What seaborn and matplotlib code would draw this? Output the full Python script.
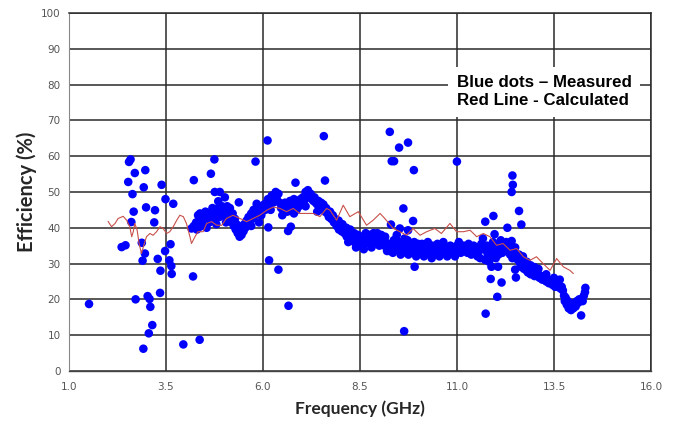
import numpy as np
import pandas as pd
import matplotlib
matplotlib.use('Agg')
import matplotlib.pyplot as plt
import seaborn as sns
from matplotlib.ticker import MultipleLocator

# Measured efficiency (blue dots) - scattered points
scatter_x = [1.52, 2.36, 2.46, 2.61, 2.67, 2.72, 2.88, 2.90, 2.96, 2.92, 2.99, 3.03, 3.08, 3.06,
             3.10, 3.15, 3.20, 3.22, 3.29, 3.35, 3.36, 3.48, 3.59, 3.62, 3.64, 3.65, 3.95, 4.20,
             4.37, 4.16, 4.38, 6.14, 6.16, 6.40, 6.66, 6.65, 6.72,
             2.53, 2.55, 2.59, 2.70, 2.64, 2.97, 2.93, 3.39, 3.49, 3.69, 4.22, 4.66, 4.75, 4.76,
             4.85, 5.02, 5.38, 5.81, 5.84, 6.12, 7.57, 7.60, 6.84, 4.89,
             9.27, 9.51, 9.74, 9.32, 9.38, 9.89, 11.00, 12.43, 12.44, 12.41,
             9.62, 9.87, 9.91, 9.64, 9.30, 9.53, 9.74, 11.73, 11.94, 11.97, 12.60, 12.66, 12.30,
             12.41, 11.87, 12.15, 12.04, 11.74, 12.50, 12.52, 14.20, 14.31, 11.79, 11.89, 12.06]
scatter_y = [18.7, 34.6, 35.1, 41.6, 44.5, 20.0, 35.8, 30.8, 32.8, 6.2, 45.7, 20.9, 20.1, 10.5,
             17.9, 12.8, 41.5, 44.9, 31.3, 21.8, 28.0, 33.5, 30.9, 35.4, 29.3, 27.1, 7.4, 26.4,
             8.7, 39.8, 40.3, 40.1, 30.9, 28.3, 18.2, 39.1, 40.3,
             52.8, 58.4, 59.1, 55.3, 49.4, 56.1, 51.3, 52.0, 48.0, 46.7, 53.3, 55.1, 59.1, 50.0,
             47.4, 48.5, 47.1, 58.5, 46.7, 64.4, 65.6, 53.2, 52.6, 50.0,
             66.8, 62.4, 63.8, 58.6, 58.6, 56.1, 58.5, 54.6, 52.0, 50.0,
             45.4, 41.9, 29.1, 11.1, 40.9, 39.8, 39.3, 41.7, 43.3, 38.2, 44.7, 40.9, 40.0,
             36.3, 25.7, 24.7, 20.7, 16.0, 28.3, 26.1, 15.5, 23.2, 32.8, 29.1, 29.1]

# Measured efficiency (blue dots) - dense band
band_x = [4.22, 4.28, 4.33, 4.38, 4.42, 4.45, 4.48, 4.52, 4.55, 4.58, 4.62, 4.65, 4.68, 4.72,
          4.75, 4.78, 4.82, 4.85, 4.88, 4.92, 4.95, 4.98, 4.40, 4.50, 4.60, 4.70,
          5.02, 5.05, 5.08, 5.10, 5.12, 5.15, 5.18, 5.20, 5.22, 5.25, 5.28, 5.30, 5.32, 5.35,
          5.37, 5.40, 5.42, 5.45, 5.47, 5.50, 5.52, 5.55, 5.58, 5.60,
          5.63, 5.66, 5.70, 5.73, 5.76, 5.80, 5.83, 5.86, 5.90, 5.93, 5.96, 6.00,
          6.03, 6.06, 6.10, 6.13, 6.16, 6.20, 6.23, 6.26, 6.30, 6.33, 6.36, 6.40, 6.43,
          6.47, 6.50, 6.53, 6.57, 6.60, 6.63, 6.67, 6.70, 6.73, 6.77, 6.80, 6.83, 6.87, 6.90,
          6.93, 6.97, 7.00,
          7.03, 7.06, 7.10, 7.13, 7.16, 7.20, 7.23, 7.26, 7.30, 7.33, 7.36, 7.40, 7.43, 7.46, 7.50,
          7.53, 7.56, 7.60, 7.63, 7.66, 7.70, 7.73, 7.76, 7.80, 7.83, 7.86, 7.90, 7.93, 7.96, 8.00,
          8.03, 8.06, 8.10, 8.13, 8.16, 8.20, 8.23, 8.26, 8.30, 8.33, 8.36, 8.40, 8.43, 8.46, 8.50,
          8.53, 8.56, 8.60, 8.63, 8.66, 8.70, 8.73, 8.76, 8.80, 8.83, 8.86, 8.90, 8.93, 8.96, 9.00,
          9.03, 9.06, 9.10, 9.13, 9.16, 9.20,
          9.27, 9.30, 9.33, 9.37, 9.40, 9.43, 9.46, 9.50, 9.53, 9.57, 9.60, 9.63, 9.67, 9.70, 9.73,
          9.77, 9.80, 9.83, 9.87, 9.90, 9.93, 9.97, 10.00,
          10.03, 10.07, 10.10, 10.13, 10.17, 10.20, 10.23, 10.27, 10.30, 10.33, 10.37, 10.40,
          10.43, 10.47, 10.50, 10.53, 10.57, 10.60, 10.63, 10.67, 10.70, 10.73, 10.77, 10.80,
          10.83, 10.87, 10.90, 10.93, 10.97, 11.00, 11.03, 11.07, 11.10,
          11.13, 11.17, 11.20, 11.23, 11.27, 11.30, 11.33, 11.37, 11.40, 11.43, 11.47, 11.50,
          11.53, 11.57, 11.60, 11.63, 11.67, 11.70, 11.73, 11.77, 11.80, 11.83, 11.87, 11.90,
          11.93, 11.97, 12.00, 12.03, 12.07, 12.10, 12.13, 12.17, 12.20, 12.23, 12.27, 12.30,
          12.33, 12.37, 12.40, 12.43, 12.47, 12.50, 12.53, 12.57, 12.60,
          12.63, 12.67, 12.70, 12.73, 12.77, 12.80, 12.83, 12.87, 12.90, 12.93, 12.97, 13.00,
          13.03, 13.07, 13.10, 13.13, 13.17, 13.20, 13.23, 13.27, 13.30, 13.33, 13.37, 13.40,
          13.43, 13.47, 13.50, 13.53, 13.57, 13.60, 13.63, 13.67, 13.70,
          13.73, 13.76, 13.78, 13.80, 13.83, 13.86, 13.88, 13.91, 13.94, 13.97, 14.00, 14.03,
          14.06, 14.09, 14.12, 14.15, 14.18, 14.21, 14.24, 14.27, 14.30]
band_y = [40.5, 41.5, 43.5, 44.0, 42.5, 41.0, 43.0, 44.5, 42.0, 43.5, 41.5, 42.8, 44.0, 43.0,
          45.0, 42.5, 44.0, 45.5, 43.0, 44.5, 46.0, 43.5, 41.0, 40.5, 42.0, 45.5,
          45.0, 43.5, 46.0, 44.0, 42.5, 45.5, 43.0, 41.5, 44.0, 40.5, 42.5, 39.5, 41.0, 38.5,
          40.0, 37.5, 39.0, 38.0, 40.5, 39.0, 41.0, 40.0, 42.0, 41.0,
          43.0, 42.0, 44.0, 42.5, 45.0, 43.5, 45.5, 44.0, 46.0, 44.5, 43.5, 45.0,
          46.5, 45.0, 47.0, 48.0, 46.0, 47.5, 49.0, 47.0, 48.5, 50.0, 48.0, 49.5, 47.0,
          45.5, 46.5, 45.0, 47.0, 46.0, 44.5, 46.5, 47.5, 45.5, 46.5, 48.0, 46.0, 45.0, 47.0,
          46.0, 48.0, 47.0,
          48.5, 47.5, 50.0, 49.0, 50.5, 48.5, 49.5, 48.0, 47.5, 48.5, 47.0, 46.5, 47.5, 46.0, 47.0,
          45.5, 46.5, 44.5, 45.5, 44.0, 43.0, 44.5, 42.5, 43.5, 41.5, 42.5, 40.5, 41.5, 39.5, 40.5,
          39.0, 40.0, 38.5, 39.5, 37.5, 38.5, 37.0, 38.0, 36.5, 37.5, 36.0, 37.0, 35.5, 36.5, 35.0,
          36.0, 35.0, 36.5, 35.5, 37.0, 36.0, 37.5, 36.5, 35.5, 37.0, 36.0, 37.5, 36.5, 35.5, 37.0,
          36.0, 37.5, 36.5, 35.0, 36.0, 35.0,
          33.5, 35.5, 34.0, 36.5, 35.0, 37.0, 34.5, 36.0, 34.0, 35.5, 33.0, 34.5, 33.5, 35.0, 36.5,
          34.0, 35.5, 33.5, 34.5, 36.0, 33.0, 34.5, 35.5,
          33.5, 34.5, 35.5, 33.0, 34.0, 35.0, 33.5, 34.5, 32.5, 33.5, 35.0, 34.0,
          33.0, 34.5, 35.5, 33.5, 34.5, 33.0, 34.0, 35.0, 33.5, 34.5, 33.0, 34.0,
          35.0, 33.5, 34.5, 33.0, 34.0, 35.0, 33.5, 34.5, 33.0,
          34.0, 35.0, 33.5, 34.5, 33.0, 35.5, 34.0, 32.5, 33.5, 35.0, 33.0, 34.5,
          32.0, 33.5, 31.5, 35.5, 37.0, 34.0, 31.0, 35.0, 33.0, 30.5, 34.0, 32.0,
          36.0, 33.5, 31.5, 35.0, 32.5, 34.0, 36.5, 33.0, 35.5, 34.0, 36.0, 33.5,
          35.0, 32.5, 34.0, 31.5, 33.0, 34.5, 32.0, 31.0, 32.5,
          30.0, 29.0, 30.5, 28.5, 29.5, 28.0, 27.5, 28.5, 27.0, 28.0, 27.5, 26.5,
          27.5, 26.5, 27.0, 26.0, 26.5, 25.5, 26.0, 25.5, 25.0, 25.5, 24.5, 25.0,
          24.5, 24.0, 24.5, 23.5, 24.0, 23.5, 24.0, 23.0, 23.5,
          22.5, 21.0, 19.5, 20.5, 18.5, 19.5, 17.5, 18.0, 17.0, 18.5, 17.5, 19.0,
          18.0, 19.5, 19.0, 20.0, 19.5, 20.0, 19.5, 21.0, 22.0]

# Measured efficiency - extra points on the upper/lower edges of the band
edge_x = [7.95, 8.05, 8.15, 8.25, 8.35, 8.45, 8.55, 8.65, 8.75, 8.85, 8.95, 9.05, 9.15,
          8.20, 8.40, 8.60, 8.80, 9.00, 9.20,
          9.35, 9.55, 9.75, 9.95, 10.15, 10.35, 10.55, 10.75, 10.95,
          9.45, 9.65, 10.25, 10.65, 11.05,
          6.20, 6.50, 6.80, 7.10, 7.40, 5.90, 5.70, 4.30, 4.55, 4.80, 5.05,
          12.70, 12.90, 13.10, 13.30, 13.50, 13.65, 12.80, 13.00]
edge_y = [42.0, 41.0, 40.0, 39.5, 38.5, 38.0, 37.5, 38.5, 38.0, 38.5, 38.5, 38.0, 37.5,
          36.0, 34.5, 34.0, 34.5, 35.0, 33.5,
          33.0, 32.5, 32.5, 32.0, 32.0, 31.5, 32.0, 32.0, 32.0,
          38.0, 37.0, 36.0, 36.0, 36.0,
          45.0, 43.5, 44.0, 46.0, 44.5, 41.5, 40.5, 39.5, 40.0, 41.0, 41.5,
          32.0, 29.5, 28.5, 27.0, 26.0, 25.5, 30.5, 29.0]

# Calculated efficiency (red line)
calc_x = [2.01, 2.10, 2.19, 2.27, 2.40, 2.49, 2.57, 2.62, 2.66, 2.70, 2.76, 2.81, 2.87, 2.92,
          3.00, 3.09, 3.17, 3.26, 3.35, 3.43, 3.52, 3.60, 3.69, 3.78, 3.86, 3.95, 4.03, 4.12,
          4.16, 4.25, 4.33, 4.46, 4.55, 4.68, 4.81, 4.94, 5.06, 5.23, 5.41, 5.58, 5.75, 5.92,
          6.10, 6.27, 6.44, 6.61, 6.78, 6.95, 7.13, 7.30, 7.47, 7.64, 7.73, 7.90, 8.07, 8.24,
          8.46, 8.67, 8.84, 9.02, 9.14, 9.36, 9.53, 9.70, 9.87, 10.05, 10.22, 10.43, 10.60,
          10.82, 10.99, 11.17, 11.34, 11.51, 11.68, 11.85, 12.02, 12.19, 12.37, 12.54, 12.71,
          12.88, 13.05, 13.22, 13.40, 13.57, 13.74, 13.91, 14.00]
calc_y = [41.8, 40.3, 41.2, 42.6, 43.2, 42.1, 40.3, 37.5, 38.9, 41.2, 39.3, 35.6, 32.8, 34.7,
          37.5, 38.4, 37.9, 38.9, 40.3, 39.8, 38.4, 38.9, 40.3, 42.1, 43.5, 43.1, 41.2, 37.5,
          35.6, 37.5, 38.9, 38.9, 41.2, 41.7, 40.7, 40.7, 42.6, 43.5, 42.6, 41.7, 42.6, 43.5,
          44.9, 45.8, 45.4, 44.5, 45.4, 44.0, 44.0, 44.0, 43.1, 45.4, 44.9, 42.1, 46.3, 43.1,
          44.5, 40.7, 42.1, 44.0, 42.6, 39.8, 38.9, 37.9, 39.8, 37.9, 38.9, 39.8, 38.4,
          41.2, 38.9, 38.9, 39.3, 37.5, 38.4, 37.5, 35.1, 35.6, 33.7, 34.2, 31.9,
          30.9, 31.9, 30.0, 28.1, 31.4, 29.1, 28.1, 27.2]

x_ticks = [1.0, 3.5, 6.0, 8.5, 11.0, 13.5, 16.0]

measured = pd.DataFrame({'freq': scatter_x + band_x + edge_x,
                         'eff': scatter_y + band_y + edge_y})
calculated = pd.DataFrame({'freq': calc_x, 'eff': calc_y})

sns.set_style('white')
fig, ax = plt.subplots(figsize=(6.75, 4.21), dpi=100)
fig.subplots_adjust(left=0.102, right=0.9644, top=0.969, bottom=0.119)

sns.scatterplot(data=measured, x='freq', y='eff', ax=ax, color='#0000ff', s=38,
                edgecolor='none', zorder=3)
sns.lineplot(data=calculated, x='freq', y='eff', ax=ax, color='#c8504a', lw=0.8,
             zorder=4, estimator=None, sort=False)

ax.set_xlim(1.0, 16.0)
ax.set_ylim(0, 100)
ax.set_xticks(x_ticks)
ax.set_xticklabels([f'{t:.1f}' for t in x_ticks])
ax.xaxis.set_minor_locator(MultipleLocator(0.25))
ax.yaxis.set_major_locator(MultipleLocator(10))
ax.yaxis.set_minor_locator(MultipleLocator(1))

ax.grid(True, which='major', color='#2a2a2a', lw=1.1)
ax.set_axisbelow(True)
for side in ['top', 'right']:
    ax.spines[side].set_color('#2a2a2a')
    ax.spines[side].set_linewidth(1.1)
ax.spines['left'].set_color('#888888')
ax.spines['left'].set_linewidth(0.8)
ax.spines['bottom'].set_color('#444444')
ax.spines['bottom'].set_linewidth(1.0)

ax.tick_params(axis='both', which='major', direction='out', length=5, width=0.8,
               color='#555555', labelsize=7.5, labelcolor='#555555', pad=3)
ax.tick_params(axis='both', which='minor', direction='out', length=3, width=0.6,
               color='#777777')
ax.tick_params(axis='y', which='major', pad=1)

ax.set_xlabel('Frequency (GHz)', fontsize=12.5, fontweight='bold', family='Lato', labelpad=6)
ax.set_ylabel('Efficiency (%)', fontsize=14.5, fontweight='bold', family='Lato', labelpad=3)

ax.text(11.0, 78.0, 'Blue dots \u2013 Measured\nRed Line - Calculated', fontsize=12.2,
        fontweight='bold', family='Liberation Sans', color='black', va='center', ha='left',
        linespacing=1.25, zorder=5,
        bbox=dict(boxstyle='square,pad=0.5', facecolor='white', edgecolor='none'))

fig.savefig('out.png', dpi=100)
